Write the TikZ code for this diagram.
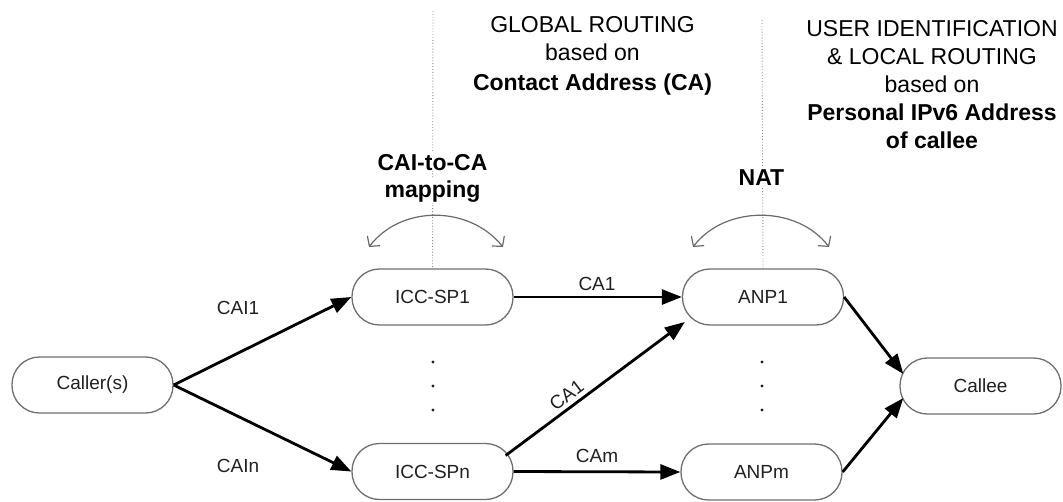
\documentclass[tikz,border=0pt]{standalone}
\usepackage{fontspec}
\setmainfont{Liberation Sans}
\usetikzlibrary{arrows.meta,calc}

\definecolor{boxgray}{HTML}{6E6E6E}
\definecolor{textgray}{HTML}{202020}
\definecolor{guidegray}{HTML}{8A8A8A}
\definecolor{arcgray}{HTML}{6A6A6A}

\begin{document}
\begin{tikzpicture}[x=1pt,y=-1pt,
  box/.style={draw=boxgray, line width=1.3pt, rounded corners=27.5pt,
    minimum width=161pt, minimum height=56pt, inner sep=0pt,
    font=\fontsize{19}{22}\selectfont, text=textgray},
  link/.style={line width=2.8pt, -{Triangle[length=20pt,width=15pt]}},
  lbl/.style={font=\fontsize{19}{22}\selectfont, text=textgray, inner sep=1pt},
  head/.style={font=\fontsize{23}{28}\selectfont, anchor=base, inner sep=0pt},
  headb/.style={font=\fontsize{23}{28}\selectfont\bfseries, anchor=base, inner sep=0pt},
  tag/.style={font=\fontsize{23}{28}\selectfont\bfseries, anchor=base, fill=white, inner sep=1pt},
  guide/.style={draw=guidegray, line width=0.9pt, dotted},
  swing/.style={draw=arcgray, line width=1.2pt,
    {Straight Barb[length=7pt,width=16pt]}-{Straight Barb[length=7pt,width=16pt]}}
]
\useasboundingbox (0,0) rectangle (1063,501);

% nodes of the call path
\node[box] (caller) at (92.5,385) {Caller(s)};
\node[box] (icc1)   at (432.5,297) {ICC-SP1};
\node[box] (iccn)   at (432.5,471.5) {ICC-SPn};
\node[box] (anp1)   at (763,297) {ANP1};
\node[box] (anpm)   at (761.5,472) {ANPm};
\node[box] (callee) at (980.5,386) {Callee};

% vertical guide lines above the two mapping points
\coordinate (guideA) at (433,11);
\coordinate (guideB) at (762,20);
\draw[guide] (guideA) -- (icc1.north);
\draw[guide] (guideB) -- (anp1.north);

% mapping labels and swing arcs
\node[tag] (mapA) at (432.5,170) {CAI-to-CA};
\node[tag] (mapB) at (432.5,197) {mapping};
\node[tag] (nat)  at (761.5,185) {NAT};

\coordinate (swAl) at (369,247);
\coordinate (swAr) at (503,247);
\coordinate (swBl) at (693,247);
\coordinate (swBr) at (829,247);
\draw[swing] (swAl) .. controls (401,205) and (469,205) .. (swAr);
\draw[swing] (swBl) .. controls (725,205) and (797,205) .. (swBr);

% headings
\node[head]  (gl1) at (592.5,32) {GLOBAL ROUTING};
\node[head]  (gl2) at (592.5,60) {based on};
\node[headb] (gl3) at (592.5,90) {Contact Address (CA)};

\node[head]  (us1) at (932,36) {USER IDENTIFICATION};
\node[head]  (us2) at (932,64) {\& LOCAL ROUTING};
\node[head]  (us3) at (932,92) {based on};
\node[headb] (us4) at (932,120) {Personal IPv6 Address};
\node[headb] (us5) at (932,148) {of callee};

% ellipsis dots between the parallel paths
\foreach \yy in {362,386,410} {
  \fill[textgray] (433,\yy) circle (1.6);
  \fill[textgray] (762,\yy) circle (1.6);
}

% connectors
\draw[link] (caller.east) -- (icc1.west);
\draw[link] (caller.east) -- (iccn.west);
\draw[link] (icc1.east) -- (anp1.west);
\draw[link] (iccn.east) -- (anpm.west);
\draw[link] ($(iccn.east)+(-8,-16)$) -- node[lbl, pos=0.38, sloped, above=3pt] (lca1b) {CA1} ($(anp1.west)+(3,25)$);
\draw[link] (anp1.east) -- ($(callee.west)+(4,-12)$);
\draw[link] (anpm.east) -- ($(callee.west)+(4,12)$);

% connector labels
\node[lbl] (lcai1) at (238,308) {CAI1};
\node[lbl] (lcain) at (238,466) {CAIn};
\node[lbl] (lca1)  at (597,284) {CA1};
\node[lbl] (lcam)  at (597,456) {CAm};
\end{tikzpicture}
\end{document}
